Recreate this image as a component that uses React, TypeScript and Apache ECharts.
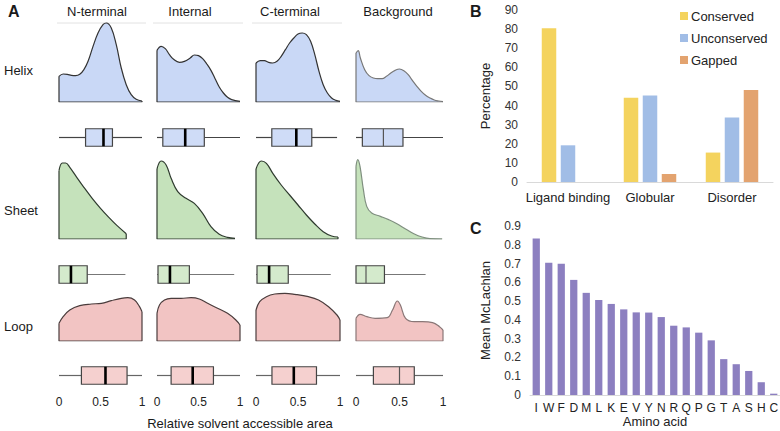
import React, { useEffect, useRef } from 'react';
import * as echarts from 'echarts';

const FONT = '"Liberation Sans", Arial, sans-serif';

// ---------- Panel A data ----------
const columnNames = ['N-terminal', 'Internal', 'C-terminal', 'Background'];
const rowNames = ['Helix', 'Sheet', 'Loop'];

// density curves [relative SASA, density]
const helixN = [[0, 0.77], [0.05, 0.84], [0.1, 0.83], [0.15, 0.8], [0.2, 0.79], [0.25, 0.83], [0.3, 0.97], [0.35, 1.22], [0.41, 1.67], [0.47, 2.07], [0.53, 2.32], [0.57, 2.37], [0.63, 2.22], [0.69, 1.72], [0.75, 1.02], [0.81, 0.52], [0.87, 0.22], [0.93, 0.08], [1, 0.03]];
const helixI = [[0, 1.55], [0.05, 1.67], [0.1, 1.6], [0.15, 1.42], [0.2, 1.28], [0.27, 1.19], [0.33, 1.22], [0.4, 1.32], [0.45, 1.41], [0.5, 1.39], [0.55, 1.3], [0.6, 1.14], [0.65, 0.95], [0.7, 0.7], [0.75, 0.45], [0.8, 0.27], [0.85, 0.14], [0.9, 0.07], [1, 0.02]];
const helixC = [[0, 1.17], [0.05, 1.24], [0.1, 1.24], [0.15, 1.19], [0.2, 1.17], [0.25, 1.22], [0.3, 1.37], [0.35, 1.57], [0.4, 1.77], [0.45, 1.92], [0.5, 2.04], [0.55, 2.07], [0.6, 2.02], [0.65, 1.82], [0.7, 1.42], [0.75, 0.92], [0.8, 0.52], [0.85, 0.27], [0.9, 0.12], [0.95, 0.05], [1, 0.02]];
const helixB = [[0, 1.47], [0.025, 1.54], [0.05, 1.32], [0.1, 0.97], [0.15, 0.79], [0.2, 0.72], [0.25, 0.7], [0.3, 0.7], [0.35, 0.77], [0.4, 0.87], [0.45, 0.95], [0.5, 0.99], [0.55, 0.94], [0.6, 0.82], [0.65, 0.64], [0.7, 0.47], [0.75, 0.32], [0.8, 0.2], [0.85, 0.12], [0.9, 0.06], [0.95, 0.03], [1, 0.01]];

const sheetN = [[0, 2.05], [0.04, 2.28], [0.08, 2.28], [0.13, 2.15], [0.2, 1.9], [0.3, 1.55], [0.4, 1.22], [0.5, 0.92], [0.6, 0.65], [0.7, 0.4], [0.81, 0.16]];
const sheetI = [[0, 2.1], [0.05, 2.34], [0.11, 2.22], [0.17, 1.82], [0.25, 1.42], [0.35, 1.22], [0.45, 1.07], [0.55, 0.77], [0.65, 0.37], [0.75, 0.14], [0.85, 0.05], [0.94, 0.02]];
const sheetC = [[0, 2.1], [0.064, 2.34], [0.124, 2.27], [0.2, 1.97], [0.3, 1.62], [0.4, 1.32], [0.5, 1.02], [0.6, 0.72], [0.7, 0.45], [0.8, 0.22], [0.9, 0.09], [0.976, 0.06]];
const sheetB = [[0, 2.18], [0.02, 2.38], [0.046, 2.18], [0.085, 1.48], [0.123, 0.98], [0.18, 0.78], [0.28, 0.68], [0.375, 0.58], [0.47, 0.46], [0.57, 0.3], [0.665, 0.16], [0.76, 0.06], [0.85, 0.01], [0.99, 0]];

const loopN = [[0, 0.53], [0.05, 0.73], [0.13, 0.93], [0.25, 1.06], [0.39, 1.11], [0.51, 1.13], [0.63, 1.21], [0.75, 1.28], [0.83, 1.3], [0.91, 1.23], [0.97, 1.03], [1, 0.88]];
const loopI = [[0, 0.83], [0.03, 1.08], [0.09, 1.23], [0.17, 1.28], [0.29, 1.28], [0.41, 1.3], [0.51, 1.26], [0.61, 1.13], [0.73, 0.98], [0.85, 0.83], [0.95, 0.63], [1, 0.48]];
const loopC = [[0, 0.93], [0.044, 1.18], [0.124, 1.33], [0.224, 1.41], [0.344, 1.43], [0.464, 1.4], [0.624, 1.33], [0.744, 1.23], [0.864, 1.03], [0.964, 0.78], [1, 0.63]];
const loopB = [[0, 0.68], [0.047, 0.8], [0.125, 0.73], [0.22, 0.68], [0.36, 0.7], [0.42, 0.93], [0.475, 1.2], [0.51, 1.08], [0.57, 0.68], [0.67, 0.58], [0.765, 0.58], [0.88, 0.55], [0.96, 0.43], [1, 0.33]];

// boxplot stats [min, q1, median, q3, max]
const helixBox = [[0, 0.32, 0.536, 0.644, 1], [0, 0.07, 0.34, 0.57, 1], [0, 0.188, 0.48, 0.664, 0.965], [0, 0.073, 0.315, 0.54, 1]];
const sheetBox = [[0, 0, 0.144, 0.34, 0.8], [0, 0.012, 0.156, 0.39, 0.93], [0, 0.012, 0.156, 0.384, 0.89], [0, 0, 0.115, 0.327, 0.8]];
const loopBox = [[0, 0.27, 0.56, 0.82, 1], [0, 0.17, 0.43, 0.68, 1], [0, 0.19, 0.45, 0.72, 1], [0, 0.2, 0.5, 0.67, 1]];

// ---------- Panel B data ----------
const regionCategories = ['Ligand binding', 'Globular', 'Disorder'];
const conserved = [80.4, 44.1, 15.4];
const unconserved = [19.2, 45.3, 33.7];
const gapped = [0, 4.2, 48.1];

// ---------- Panel C data ----------
const aminoAcids = ['I', 'W', 'F', 'D', 'M', 'L', 'K', 'E', 'V', 'Y', 'N', 'R', 'Q', 'P', 'G', 'T', 'A', 'S', 'H', 'C'];
const meanMcLachlan = [0.834, 0.704, 0.699, 0.613, 0.544, 0.506, 0.485, 0.456, 0.44, 0.439, 0.415, 0.369, 0.36, 0.332, 0.291, 0.191, 0.164, 0.128, 0.068, 0.007];

// ---------- layout / style ----------
const colLeft = [59, 157, 256, 356];
const colWidth = [83, 83, 84, 87];
const densityRows = [
  { top: 15, height: 87, max: 2.61 },
  { top: 155, height: 84, max: 2.52 },
  { top: 285, height: 56, max: 1.68 },
];
const boxRows = [
  { top: 128, height: 19 },
  { top: 265, height: 19 },
  { top: 366, height: 19 },
];
const rowStyle = [
  { fill: '#c9d8f6', stroke: '#333333', bgStroke: '#777777', boxFill: '#cfdcf7', whisker: '#444444' },
  { fill: '#c5e2bb', stroke: '#2f3b2f', bgStroke: '#7f8f7f', boxFill: '#d4eacc', whisker: '#777777' },
  { fill: '#f2c4c3', stroke: '#4a3c3c', bgStroke: '#8a7777', boxFill: '#f5d0cf', whisker: '#666666' },
];

const densities = [
  [helixN, helixI, helixC, helixB],
  [sheetN, sheetI, sheetC, sheetB],
  [loopN, loopI, loopC, loopB],
];
const boxes = [helixBox, sheetBox, loopBox];

function boxRender(fill: string, stroke: string, whisker: string, medColor: string, medWidth: number) {
  return (params: any, api: any) => {
    const v = [0, 1, 2, 3, 4].map((i) => api.value(i));
    const yc = api.coord([v[0], 0])[1];
    const yt = api.coord([v[0], 0.92])[1];
    const hh = yc - yt;
    const px = v.map((x: number) => api.coord([x, 0])[0]);
    return {
      type: 'group',
      children: [
        { type: 'line', shape: { x1: px[0], y1: yc, x2: px[1], y2: yc }, style: { stroke: whisker, lineWidth: 1.2 } },
        { type: 'line', shape: { x1: px[3], y1: yc, x2: px[4], y2: yc }, style: { stroke: whisker, lineWidth: 1.2 } },
        { type: 'rect', shape: { x: px[1], y: yc - hh, width: px[3] - px[1], height: 2 * hh }, style: { fill, stroke, lineWidth: 1.2 } },
        { type: 'line', shape: { x1: px[2], y1: yc - hh, x2: px[2], y2: yc + hh }, style: { stroke: medColor, lineWidth: medWidth } },
      ],
    };
  };
}

function buildOption() {
  const grid: any[] = [];
  const xAxis: any[] = [];
  const yAxis: any[] = [];
  const series: any[] = [];
  const hidden = { show: false };

  for (let r = 0; r < 3; r++) {
    for (let c = 0; c < 4; c++) {
      const st = rowStyle[r];
      const stroke = c === 3 ? st.bgStroke : st.stroke;
      const gi = grid.length;
      grid.push({ left: colLeft[c], width: colWidth[c], top: densityRows[r].top, height: densityRows[r].height, outerBoundsMode: 'none' });
      xAxis.push({ type: 'value', gridIndex: gi, min: 0, max: 1, ...hidden });
      yAxis.push({ type: 'value', gridIndex: gi, min: 0, max: densityRows[r].max, ...hidden });
      const d = densities[r][c];
      series.push({
        type: 'line', xAxisIndex: gi, yAxisIndex: gi, data: d, smooth: 0.4, symbol: 'none',
        lineStyle: { color: stroke, width: 1.2 }, areaStyle: { color: st.fill, opacity: 1 }, z: 2,
      });
      const first = d[0];
      const last = d[d.length - 1];
      series.push({
        type: 'line', xAxisIndex: gi, yAxisIndex: gi, symbol: 'none', smooth: false,
        data: [[first[0], first[1]], [first[0], 0], [last[0], 0], [last[0], last[1]]],
        lineStyle: { color: stroke, width: 1.2 }, z: 3,
      });

      const bi = grid.length;
      const isBottom = r === 2;
      grid.push({ left: colLeft[c], width: colWidth[c], top: boxRows[r].top, height: boxRows[r].height, outerBoundsMode: 'none' });
      xAxis.push({
        type: 'value', gridIndex: bi, min: 0, max: 1, interval: 0.5,
        show: isBottom,
        axisLine: { show: false }, axisTick: { show: false }, splitLine: { show: false },
        axisLabel: { show: isBottom, margin: 11, fontSize: 12, color: '#222', fontFamily: FONT, showMinLabel: true, showMaxLabel: true },
      });
      yAxis.push({ type: 'value', gridIndex: bi, min: -1, max: 1, ...hidden });
      const bg = c === 3;
      series.push({
        type: 'custom', xAxisIndex: bi, yAxisIndex: bi,
        data: [boxes[r][c]],
        dimensions: ['min', 'q1', 'median', 'q3', 'max'],
        encode: { x: [0, 1, 2, 3, 4] },
        renderItem: boxRender(st.boxFill, '#444444', st.whisker, bg ? '#555555' : '#000000', bg ? 1.2 : 2.6),
        z: 3,
      });
    }
  }

  // Panel B
  const gB = grid.length;
  grid.push({ left: 527, right: 7, top: 10, bottom: 249, outerBoundsMode: 'none' });
  xAxis.push({
    type: 'category', gridIndex: gB, data: regionCategories,
    axisLine: { lineStyle: { color: '#d9d9d9' } }, axisTick: { show: false },
    axisLabel: { fontSize: 13, color: '#222', margin: 9, interval: 0, fontFamily: FONT },
  });
  yAxis.push({
    type: 'value', gridIndex: gB, min: 0, max: 90, interval: 10,
    axisLine: { show: false }, axisTick: { show: false }, splitLine: { show: false },
    axisLabel: { fontSize: 12, color: '#333', margin: 9, fontFamily: FONT },
    name: 'Percentage', nameLocation: 'middle', nameGap: 35,
    nameTextStyle: { fontSize: 13, color: '#222', fontFamily: FONT },
  });
  const barColors = ['#f4d35e', '#a1bde6', '#e3a36f'];
  [['Conserved', conserved], ['Unconserved', unconserved], ['Gapped', gapped]].forEach(([name, vals], i) => {
    series.push({
      type: 'bar', name, xAxisIndex: gB, yAxisIndex: gB, data: vals,
      barWidth: 14.5, barGap: '31%', itemStyle: { color: barColors[i] },
    });
  });

  // Panel C
  const gC = grid.length;
  grid.push({ left: 530, right: 0, top: 226, bottom: 36, outerBoundsMode: 'none' });
  xAxis.push({
    type: 'category', gridIndex: gC, data: aminoAcids,
    axisLine: { lineStyle: { color: '#d9d9d9' } }, axisTick: { show: false },
    axisLabel: { fontSize: 12, color: '#222', margin: 7, interval: 0, fontFamily: FONT },
    name: 'Amino acid', nameLocation: 'middle', nameGap: 19,
    nameTextStyle: { fontSize: 13, color: '#222', fontFamily: FONT },
  });
  yAxis.push({
    type: 'value', gridIndex: gC, min: 0, max: 0.9, interval: 0.1,
    axisLine: { show: false }, axisTick: { show: false }, splitLine: { show: false },
    axisLabel: { fontSize: 12, color: '#333', margin: 9, fontFamily: FONT },
    name: 'Mean McLachlan', nameLocation: 'middle', nameGap: 38,
    nameTextStyle: { fontSize: 13, color: '#222', fontFamily: FONT },
  });
  series.push({
    type: 'bar', xAxisIndex: gC, yAxisIndex: gC, data: meanMcLachlan,
    barWidth: '58%', itemStyle: { color: '#8c7fc0' },
  });

  const titleX = [97, 190, 290, 398];
  const lineSpans = [[57, 146], [153, 243], [252, 342]];
  const rowY = [70, 210, 326];
  const graphic: any[] = [];
  const txt = (text: string, x: number, y: number, size: number, align = 'left', bold = false) => ({
    type: 'text', x, y, silent: true,
    style: { text, align, verticalAlign: 'middle', font: `${bold ? 'bold ' : ''}${size}px ${FONT}`, fill: '#1a1a1a' },
  });
  graphic.push(txt('A', 8, 11, 16, 'left', true));
  graphic.push(txt('B', 470, 11, 16, 'left', true));
  graphic.push(txt('C', 470, 228, 16, 'left', true));
  columnNames.forEach((n, i) => graphic.push(txt(n, titleX[i], 11, 13, 'center')));
  lineSpans.forEach(([a, b]) => graphic.push({ type: 'line', silent: true, shape: { x1: a, y1: 23, x2: b, y2: 23 }, style: { stroke: '#e2e2e2', lineWidth: 1 } }));
  rowNames.forEach((n, i) => graphic.push(txt(n, 4, rowY[i], 13, 'left')));
  graphic.push(txt('Relative solvent accessible area', 240, 423, 13, 'center'));

  return {
    animation: false,
    backgroundColor: '#ffffff',
    textStyle: { fontFamily: FONT },
    grid, xAxis, yAxis, series, graphic,
    legend: {
      data: ['Conserved', 'Unconserved', 'Gapped'],
      orient: 'vertical', left: 680, top: 9, padding: 0,
      itemWidth: 8, itemHeight: 8, itemGap: 8, icon: 'rect',
      textStyle: { fontSize: 13, color: '#222', lineHeight: 14, fontFamily: FONT, padding: [0, 0, 0, -2] },
    },
  };
}

export default function App() {
  const ref = useRef<HTMLDivElement>(null);
  useEffect(() => {
    if (!ref.current) return;
    const chart = echarts.init(ref.current, null, { renderer: 'svg' });
    chart.setOption(buildOption() as any);
    return () => chart.dispose();
  }, []);
  return <div ref={ref} style={{ position: 'fixed', left: 0, top: 0, width: 780, height: 431, background: '#fff' }} />;
}
